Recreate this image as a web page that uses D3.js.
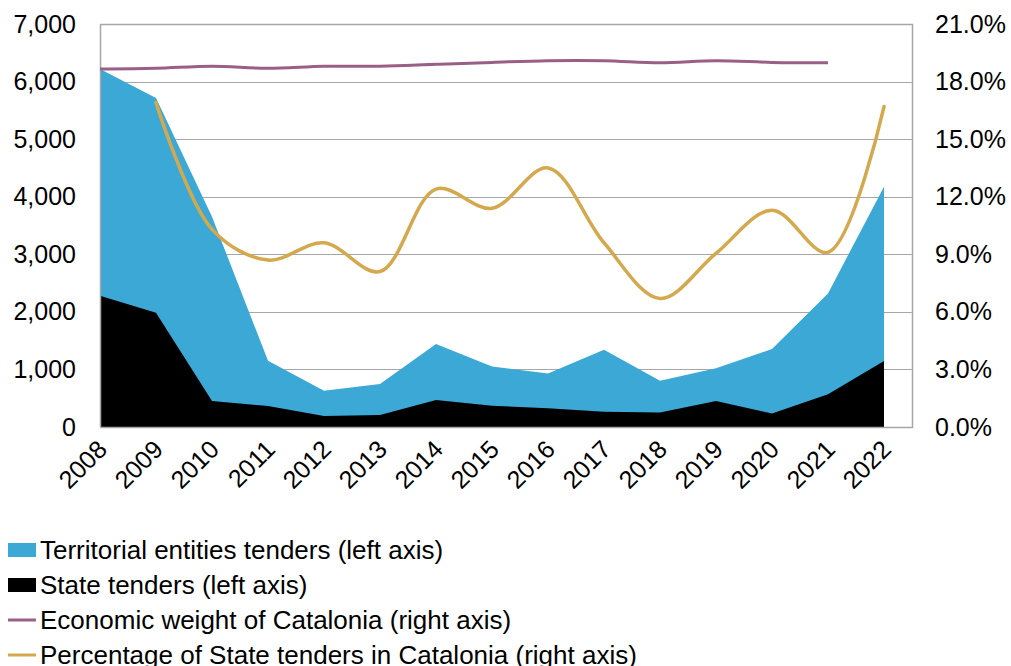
<!DOCTYPE html>
<html>
<head>
  <meta charset="utf-8">
  <title>Tenders in Catalonia</title>
  <script src="https://cdn.jsdelivr.net/npm/d3@7"></script>
  <style>
    body { margin: 0; background: #ffffff; }
    svg text { font-family: "Liberation Sans", Arial, sans-serif; fill: #000000; }
    .grid line { stroke: #a6a6a6; stroke-width: 1; shape-rendering: crispEdges; }
    .legend text { font-size: 26px; }
  </style>
</head>
<body>
  <script>
    // Data
    var years = ["2008", "2009", "2010", "2011", "2012", "2013", "2014", "2015",
                 "2016", "2017", "2018", "2019", "2020", "2021", "2022"];
    // total of territorial entities + state tenders (stacked top)
    var territorialTotal = [6220, 5715, 3650, 1150, 630, 745, 1440, 1050,
                            930, 1340, 805, 1020, 1355, 2320, 4175];
    var stateTenders = [2280, 1985, 450, 365, 190, 210, 470, 370,
                        325, 265, 250, 450, 235, 570, 1145];
    var economicWeight = [18.65, 18.69, 18.8, 18.69, 18.8, 18.8, 18.9, 19.0,
                          19.09, 19.09, 18.98, 19.09, 19.0, 18.98, null];
    var stateShare = [null, 16.9, 10.3, 8.7, 9.6, 8.1, 12.4, 11.4,
                      13.5, 9.6, 6.7, 9.05, 11.3, 9.1, 16.7];
    var leftTicks = [0, 1000, 2000, 3000, 4000, 5000, 6000, 7000];
    var rightTicks = [0, 3, 6, 9, 12, 15, 18, 21];
    var legendItems = [
      { label: "Territorial entities tenders (left axis)", color: "#3ba8d5", type: "box" },
      { label: "State tenders (left axis)", color: "#000000", type: "box" },
      { label: "Economic weight of Catalonia (right axis)", color: "#9a5f86", type: "line" },
      { label: "Percentage of State tenders in Catalonia (right axis)", color: "#d4a94e", type: "line" }
    ];

    var width = 1011, height = 666;
    var pLeft = 100, pRight = 912, pTop = 24, pBottom = 427;

    var svg = d3.select("body").append("svg")
                .attr("width", width)
                .attr("height", height);

    var x = d3.scalePoint().domain(years).range([pLeft, 884]);
    var yLeft = d3.scaleLinear().domain([0, 7000]).range([pBottom, pTop]);
    var yRight = d3.scaleLinear().domain([0, 21]).range([pBottom, pTop]);

    // gridlines
    svg.append("g").attr("class", "grid")
       .selectAll("line").data(leftTicks.slice(1))
       .enter().append("line")
       .attr("x1", pLeft).attr("x2", pRight)
       .attr("y1", function(d) { return Math.round(yLeft(d)) + 0.5; })
       .attr("y2", function(d) { return Math.round(yLeft(d)) + 0.5; });

    // areas
    var area = function(vals) {
      return d3.area()
               .x(function(d, i) { return x(years[i]); })
               .y0(yLeft(0))
               .y1(function(d) { return yLeft(d); })(vals);
    };
    svg.append("path").attr("d", area(territorialTotal)).attr("fill", "#3ba8d5");
    svg.append("path").attr("d", area(stateTenders)).attr("fill", "#000000");

    // frame
    svg.append("path")
       .attr("d", "M" + (pLeft + 0.5) + "," + (pBottom + 0.5) + "V" + (pTop + 0.5) + "H" + (pRight + 0.5) + "V" + (pBottom + 0.5) + "H" + (pLeft + 0.5))
       .attr("fill", "none").attr("stroke", "#a6a6a6").attr("stroke-width", 1.5);

    // smoothed lines on right axis
    var line = d3.line()
                 .defined(function(d) { return d != null; })
                 .x(function(d, i) { return x(years[i]); })
                 .y(function(d) { return yRight(d); })
                 .curve(d3.curveCatmullRom.alpha(0.5));

    svg.append("path").datum(economicWeight)
       .attr("d", line)
       .attr("fill", "none").attr("stroke", "#9a5f86").attr("stroke-width", 3);

    svg.append("path").datum(stateShare)
       .attr("d", line)
       .attr("fill", "none").attr("stroke", "#d4a94e").attr("stroke-width", 3.5)
       .attr("stroke-linecap", "round");

    // left axis
    var gl = svg.append("g")
       .attr("transform", "translate(" + pLeft + ",0)")
       .call(d3.axisLeft(yLeft).tickValues(leftTicks).tickSize(0).tickPadding(24)
               .tickFormat(d3.format(",")));
    gl.select(".domain").remove();
    gl.selectAll("text").style("font-size", "25px").attr("font-family", null);

    // right axis
    var gr = svg.append("g")
       .attr("transform", "translate(" + pRight + ",0)")
       .call(d3.axisRight(yRight).tickValues(rightTicks).tickSize(0).tickPadding(23)
               .tickFormat(function(d) { return d3.format(".1f")(d) + "%"; }));
    gr.select(".domain").remove();
    gr.selectAll("text").style("font-size", "25px").attr("font-family", null);

    // x axis
    var gx = svg.append("g")
       .attr("transform", "translate(0," + pBottom + ")")
       .call(d3.axisBottom(x).tickSize(0));
    gx.select(".domain").remove();
    gx.selectAll("text")
      .style("font-size", "25px").attr("font-family", null)
      .attr("text-anchor", "end")
      .attr("dy", null).attr("y", 0)
      .attr("transform", "translate(-5,11) rotate(-45)")
      .attr("dominant-baseline", "hanging");

    // legend
    var lg = svg.append("g").attr("class", "legend")
                .selectAll("g").data(legendItems)
                .enter().append("g")
                .attr("transform", function(d, i) { return "translate(8," + (550 + i * 35) + ")"; });
    lg.filter(function(d) { return d.type === "box"; })
      .append("rect").attr("x", 0).attr("y", -7).attr("width", 28).attr("height", 14)
      .attr("fill", function(d) { return d.color; });
    lg.filter(function(d) { return d.type === "line"; })
      .append("line").attr("x1", 0).attr("x2", 28).attr("y1", 0).attr("y2", 0)
      .attr("stroke", function(d) { return d.color; }).attr("stroke-width", 3);
    lg.append("text").attr("x", 32).attr("y", 0).attr("dy", "0.36em")
      .text(function(d) { return d.label; });
  </script>
</body>
</html>
